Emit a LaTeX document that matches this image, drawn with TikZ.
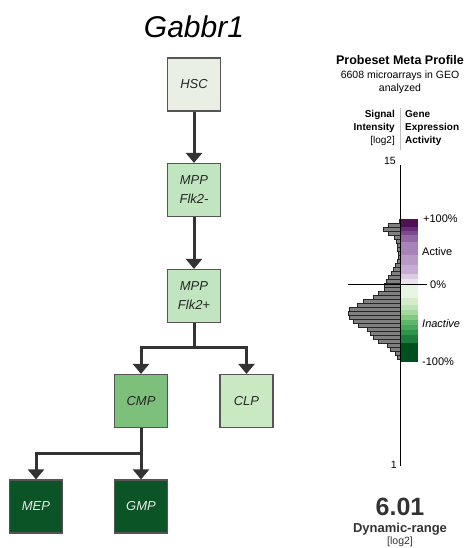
\documentclass[tikz,border=0pt]{standalone}
\usepackage{fontspec}
\setmainfont{Liberation Sans}
\usetikzlibrary{arrows.meta}

\definecolor{hscfill}{HTML}{E9EFE4}
\definecolor{mppfill}{HTML}{C1E5BF}
\definecolor{cmpfill}{HTML}{7DC07C}
\definecolor{clpfill}{HTML}{C8E9C1}
\definecolor{darkfill}{HTML}{0B5426}
\definecolor{boxline}{HTML}{555555}
\definecolor{linkcol}{HTML}{333333}
\definecolor{barfill}{HTML}{808080}

\tikzset{
  cellbox/.style={draw=boxline, line width=1.2pt, minimum width=53pt, minimum height=53pt,
    inner sep=0pt, align=center, text=black!85, font=\itshape\fontsize{13}{19}\selectfont},
  link/.style={draw=linkcol, line width=3pt, -{Triangle[width=16pt,length=10pt]}},
  plain/.style={inner sep=0pt, font=\fontsize{10.5}{13}\selectfont}
}

\begin{document}
\begin{tikzpicture}[x=1pt, y=-1pt]
    \useasboundingbox (0,0) rectangle (471,548);

    % lineage tree
    \node[font=\itshape\fontsize{30}{30}\selectfont] (title) at (194,27) {Gabbr1};

    \node[cellbox, fill=hscfill] (hsc) at (194,84.5) {HSC};
    \node[cellbox, fill=mppfill] (mppA) at (194,190) {MPP\\Flk2-};
    \node[cellbox, fill=mppfill] (mppB) at (194,296) {MPP\\Flk2+};
    \node[cellbox, fill=cmpfill] (cmp) at (141,401) {CMP};
    \node[cellbox, fill=clpfill] (clp) at (246.5,401) {CLP};
    \node[cellbox, fill=darkfill, text=white!92!black] (mep) at (36,506.5) {MEP};
    \node[cellbox, fill=darkfill, text=white!92!black] (gmp) at (141,506.5) {GMP};

    \coordinate (splitA) at (194,347.3);
    \coordinate (splitB) at (141,453.3);

    \draw[link] (hsc) -- (mppA);
    \draw[link] (mppA) -- (mppB);
    \draw[link] (mppB.south) -- (splitA) -| (cmp.north);
    \draw[link] (splitA) -| (clp.north);
    \draw[link] (cmp) -- (gmp);
    \draw[link] (splitB) -| (mep.north);

    % meta profile header
    \node[plain, font=\bfseries\fontsize{12.5}{15}\selectfont] (head) at (400,60) {Probeset Meta Profile};
    \node[plain, align=center] (sub) at (400,82.5) {6608 microarrays in GEO\\analyzed};
    \draw[gray!50, line width=0.8pt] (400,108) -- (400,150);
    \node[plain, align=right, anchor=east, font=\fontsize{10}{13}\selectfont] (sigtxt) at (395,128)
      {\textbf{Signal}\\\textbf{Intensity}\\{[log2]}};
    \node[plain, align=left, anchor=west, font=\bfseries\fontsize{10}{13}\selectfont] (acttxt) at (405,128)
      {Gene\\Expression\\Activity};

    % histogram bars
    \foreach \len [count=\i] in {1,12,17,12,6,4,3,2.5,2,2,3,5,7,9,12,14,16,16,22,27,37,43,51,52,51,47,42,33,30,27,22,13,10,5,3}
        \filldraw[fill=barfill, draw=black!85, line width=0.6pt] (400-\len,215+4*\i) rectangle (400,219+4*\i);

    % colour scale
    \foreach \ya/\yb/\col in {219/227/4D1154, 227/231/6A2D78, 231/235/7D4A8C, 235/242/9467A4,
        242/255/A883B8, 255/265/B99AC7, 265/274/C7ACD4, 274/279/DCCBE4, 279/284.7/ECE2F0,
        284.7/298/E7F5E2, 298/305/D3EDCB, 305/310/BDE4B5, 310/315/A3D99C, 315/320/80C97D,
        320/325/5EB66A, 325/330/45A85A, 330/335/2F944B, 335/343/1B7D3B, 343/362/00501F}{
        \definecolor{segcol}{HTML}{\col}
        \fill[segcol] (400,\ya) rectangle (418.3,\yb);
    }

    \draw[black, line width=1pt] (400,165) -- (400,466);
    \draw[black, line width=0.8pt] (348,284.7) -- (427,284.7);
    \node[plain, anchor=east] (top) at (396,161) {15};
    \node[plain, anchor=east] (bot) at (397,465) {1};

    \node[plain, anchor=west, font=\fontsize{11}{13}\selectfont] (plus) at (423,219) {+100\%};
    \node[plain, anchor=west, font=\fontsize{11}{13}\selectfont] (act) at (422,252) {Active};
    \node[plain, anchor=west, font=\fontsize{11}{13}\selectfont] (zero) at (430,285) {0\%};
    \node[plain, anchor=west, font=\itshape\fontsize{11}{13}\selectfont] (inact) at (422,324) {Inactive};
    \node[plain, anchor=west, font=\fontsize{11}{13}\selectfont] (minus) at (422,362) {-100\%};

    % dynamic range
    \node[plain, text=black!80, font=\bfseries\fontsize{25}{25}\selectfont] (range) at (400,507) {6.01};
    \node[plain, text=black!80, font=\bfseries\fontsize{13}{15}\selectfont] (rangetxt) at (400,529) {Dynamic-range};
    \node[plain, text=black!80] (rangeunit) at (400,542) {[log2]};
\end{tikzpicture}
\end{document}
